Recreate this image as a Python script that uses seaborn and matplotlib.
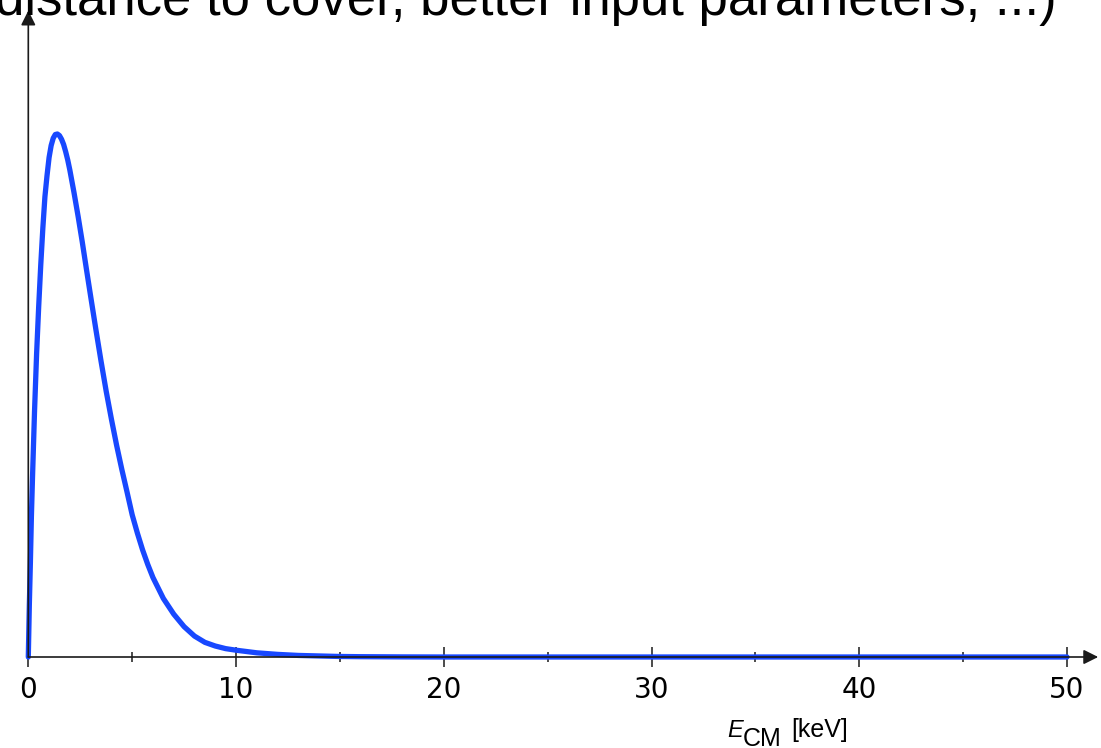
import numpy as np
import matplotlib
matplotlib.use("Agg")
import matplotlib.pyplot as plt
import seaborn as sns

# values (peak normalised to 1, no y scale shown)
energy_kev = [0, 0.05, 0.1, 0.15, 0.2, 0.3, 0.4, 0.5, 0.6, 0.7, 0.8, 0.9, 1.0,
              1.1, 1.2, 1.3, 1.4, 1.5, 1.6, 1.7, 1.8, 1.9, 2.0, 2.2, 2.4, 2.6,
              2.8, 3.0, 3.25, 3.5, 3.75, 4.0, 4.25, 4.5, 4.75, 5.0, 5.25, 5.5,
              5.75, 6.0, 6.5, 7.0, 7.5, 8.0, 8.5, 9.0, 9.5, 10, 11, 12, 13, 14,
              15, 16, 18, 20, 25, 30, 35, 40, 45, 50]
rate = [0, 0.10, 0.18, 0.27, 0.34, 0.47, 0.58, 0.67, 0.75, 0.82, 0.88, 0.92,
        0.955, 0.978, 0.992, 0.999, 1.0, 0.997, 0.99, 0.98, 0.966, 0.95, 0.931,
        0.888, 0.842, 0.793, 0.741, 0.690, 0.627, 0.566, 0.508, 0.455, 0.405,
        0.359, 0.316, 0.272, 0.237, 0.205, 0.177, 0.152, 0.112, 0.082, 0.058,
        0.040, 0.028, 0.021, 0.016, 0.013, 0.008, 0.005, 0.003, 0.002, 0.001,
        0.0006, 0.0002, 0, 0, 0, 0, 0, 0, 0]
major_ticks = [0, 10, 20, 30, 40, 50]
minor_ticks = [5, 15, 25, 35, 45]

sns.set_style("white")
plt.rcParams['font.family'] = ['DejaVu Sans']
plt.rcParams['text.color'] = 'black'
plt.rcParams['xtick.color'] = 'black'

W, H = 1101, 748
fig = plt.figure(figsize=(W / 100, H / 100), dpi=100)
ax = fig.add_axes([28.3 / W, (H - 657) / H, (1067 - 28.3) / W, (657 - 134) / H])

sns.lineplot(x=energy_kev, y=rate, ax=ax, color="#1848ff", linewidth=3.8,
             clip_on=False, zorder=2)

ax.set_xlim(0, 50)
ax.set_ylim(0, 1.0)
for s in ax.spines.values():
    s.set_visible(False)

# axes drawn as arrows
arrow = dict(arrowstyle="-|>", color="#1a1a1a", lw=1.2, mutation_scale=22,
             shrinkA=0, shrinkB=0)
ax.annotate("", xy=(1.03, 0), xytext=(0, 0), xycoords="axes fraction",
            textcoords="axes fraction", arrowprops=arrow, zorder=3)
ax.annotate("", xy=(0, 1.236), xytext=(0, 0), xycoords="axes fraction",
            textcoords="axes fraction", arrowprops=arrow, zorder=3)

ax.set_xticks(major_ticks)
ax.set_xticks(minor_ticks, minor=True)
ax.set_xticklabels([str(t) for t in major_ticks])
ax.set_yticks([])
ax.tick_params(axis="x", which="major", direction="inout", length=15, width=1.1,
               color="#1a1a1a", labelsize=20, labelcolor="black", pad=6)
ax.tick_params(axis="x", which="minor", direction="inout", length=7.5, width=1.1,
               color="#1a1a1a")
ax.tick_params(axis="x", which="both", bottom=True)

# x label: E_CM [keV]
lab = ["Liberation Sans"]
fig.text(727 / W, 1 - 737 / H, "E", fontsize=17, style="italic", family=lab,
         va="baseline")
fig.text(743 / W, 1 - 746 / H, "CM", fontsize=18, family=lab, va="baseline")
fig.text(791 / W, 1 - 737 / H, "[keV]", fontsize=18, family=lab, va="baseline")

# cut-off text at the top of the slide
fig.text(1057 / W, 1 - 15 / H, "distance to cover, better input parameters, ...)",
         fontsize=38, family=["Liberation Sans"], ha="right", va="baseline")

fig.savefig("out.png", dpi=100)
